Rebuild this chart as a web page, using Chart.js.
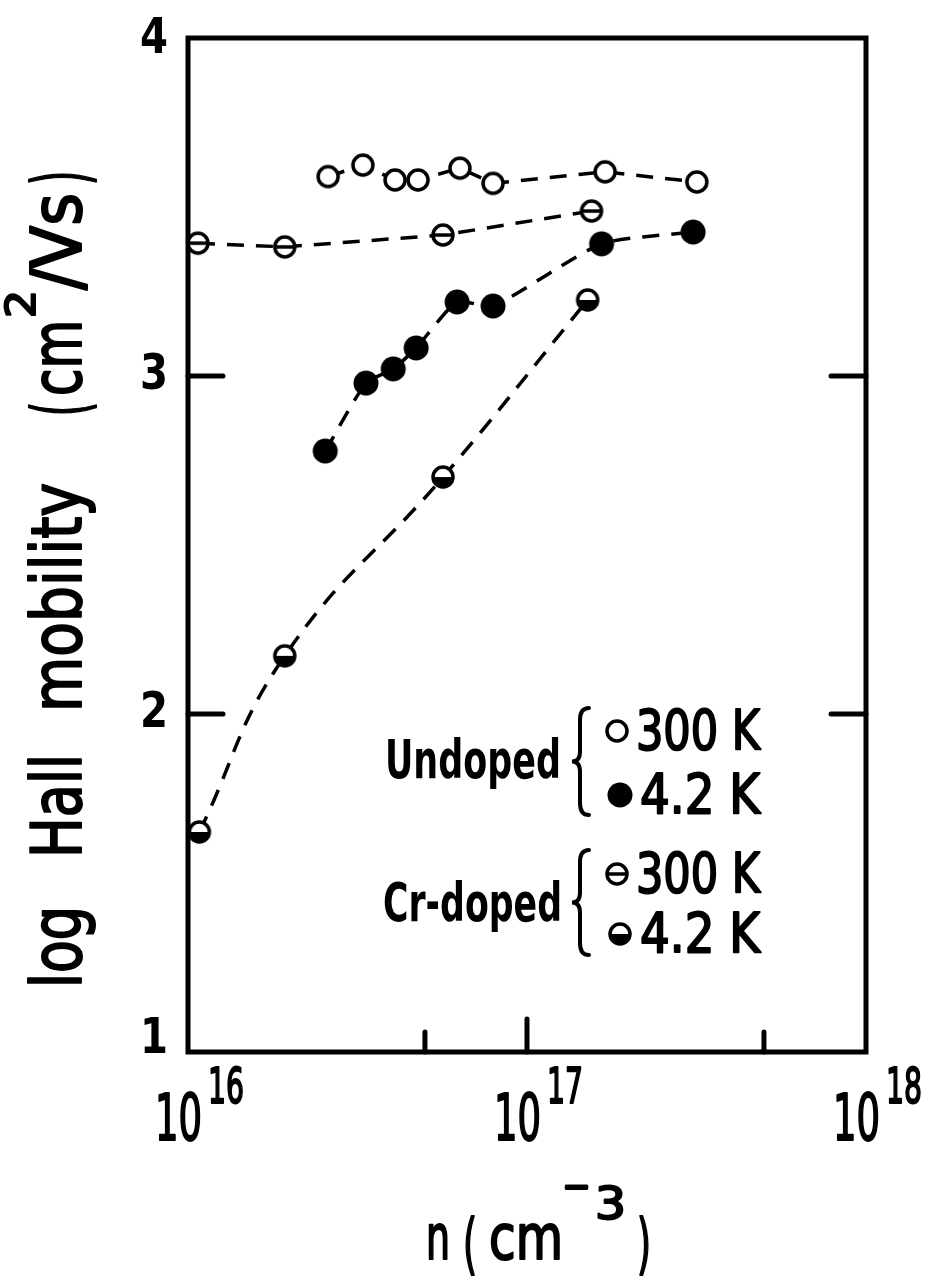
<!DOCTYPE html>
<html>
<head>
<meta charset="utf-8">
<script src="https://cdn.jsdelivr.net/npm/chart.js@4.4.1/dist/chart.umd.min.js"></script>
<style>
  html, body { margin: 0; padding: 0; background: #fff; }
</style>
</head>
<body>
<canvas id="hallChart" width="935" height="1276"></canvas>
<script>
// carrier concentration n (cm^-3) and log Hall mobility
const undoped300N  = [2.59e16, 3.28e16, 4.08e16, 4.77e16, 6.34e16, 7.94e16, 1.70e17, 3.17e17];
const undoped300Mu = [3.59, 3.624, 3.58, 3.58, 3.615, 3.57, 3.604, 3.574];

const undoped42N  = [2.54e16, 3.35e16, 4.03e16, 4.71e16, 6.22e16, 7.94e16, 1.66e17, 3.09e17];
const undoped42Mu = [2.778, 2.979, 3.021, 3.083, 3.219, 3.207, 3.391, 3.426];

const crDoped300N  = [1.07e16, 1.93e16, 5.65e16, 1.55e17];
const crDoped300Mu = [3.393, 3.382, 3.417, 3.488];

const crDoped42N  = [1.08e16, 1.93e16, 5.65e16, 1.51e17];
const crDoped42Mu = [1.651, 2.172, 2.701, 3.225];

const yTickValues = [1, 2, 3, 4];
const xDecades = [16, 17, 18];
const xMinorTicks = [5e16, 5e17];

const FONT = '"DejaVu Sans Condensed", "Liberation Sans Narrow", "DejaVu Sans", sans-serif';

// marker images
function makeMarker(kind, r) {
  const size = Math.ceil(r * 2 + 8);
  const c = document.createElement('canvas');
  c.width = size; c.height = size;
  const g = c.getContext('2d');
  const m = size / 2;
  g.lineWidth = 3.5;
  g.strokeStyle = '#000';
  g.fillStyle = '#fff';
  g.beginPath(); g.arc(m, m, r, 0, Math.PI * 2); g.fill();
  if (kind === 'filled') {
    g.fillStyle = '#000';
    g.beginPath(); g.arc(m, m, r + 1.5, 0, Math.PI * 2); g.fill();
    return c;
  }
  if (kind === 'half') {
    g.fillStyle = '#000';
    g.beginPath(); g.arc(m, m, r, 0, Math.PI); g.closePath(); g.fill();
  }
  if (kind === 'theta') {
    g.beginPath(); g.moveTo(m - r, m); g.lineTo(m + r, m); g.stroke();
  }
  g.beginPath(); g.arc(m, m, r, 0, Math.PI * 2); g.stroke();
  return c;
}

const mkOpen  = makeMarker('open', 10);
const mkFull  = makeMarker('filled', 11);
const mkTheta = makeMarker('theta', 10);
const mkHalf  = makeMarker('half', 10);

function pts(xs, ys) {
  return xs.map((x, i) => ({ x: x, y: ys[i] }));
}

// text stretched horizontally so it runs from x0 to x1; heavy adds an outline
function fitTxt(ctx, s, x0, x1, y, size, bold, base, heavy) {
  ctx.save();
  ctx.font = (bold ? 'bold ' : '') + size + 'px ' + FONT;
  ctx.textAlign = 'left';
  ctx.textBaseline = base || 'alphabetic';
  const w = ctx.measureText(s).width;
  ctx.translate(x0, y);
  ctx.scale((x1 - x0) / w, 1);
  ctx.fillText(s, 0, 0);
  if (heavy) {
    ctx.lineWidth = heavy;
    ctx.lineJoin = 'round';
    ctx.strokeText(s, 0, 0);
  }
  ctx.restore();
}

function brace(ctx, x, top, bottom) {
  const mid = (top + bottom) / 2;
  ctx.beginPath();
  ctx.moveTo(x + 9, top);
  ctx.quadraticCurveTo(x, top, x, top + 12);
  ctx.lineTo(x, mid - 10);
  ctx.quadraticCurveTo(x, mid, x - 8, mid);
  ctx.quadraticCurveTo(x, mid, x, mid + 10);
  ctx.lineTo(x, bottom - 12);
  ctx.quadraticCurveTo(x, bottom, x + 9, bottom);
  ctx.stroke();
}

const framePlugin = {
  id: 'frame',
  beforeDatasetsDraw(chart) {
    const { ctx, chartArea: a, scales } = chart;
    const xs = scales.x, ys = scales.y;
    ctx.save();
    ctx.strokeStyle = '#000';
    ctx.lineCap = 'round';
    ctx.lineWidth = 5;
    ctx.strokeRect(a.left, a.top, a.right - a.left, a.bottom - a.top);

    // inward ticks
    [2, 3].forEach(v => {
      const py = ys.getPixelForValue(v);
      ctx.beginPath(); ctx.moveTo(a.left, py); ctx.lineTo(a.left + 35, py); ctx.stroke();
      ctx.beginPath(); ctx.moveTo(a.right, py); ctx.lineTo(a.right - 35, py); ctx.stroke();
    });
    const p17 = xs.getPixelForValue(1e17);
    ctx.beginPath(); ctx.moveTo(p17, a.bottom); ctx.lineTo(p17, a.bottom - 33); ctx.stroke();
    xMinorTicks.forEach(v => {
      const px = xs.getPixelForValue(v);
      ctx.beginPath(); ctx.moveTo(px, a.bottom); ctx.lineTo(px, a.bottom - 20); ctx.stroke();
    });
    ctx.restore();
  },
  afterDraw(chart) {
    const { ctx, chartArea: a, scales } = chart;
    const xs = scales.x, ys = scales.y;
    ctx.save();
    ctx.fillStyle = '#000';
    ctx.strokeStyle = '#000';
    const H = 2; // outline for the regular-weight lettering

    // y tick labels
    yTickValues.forEach(v => {
      let py = ys.getPixelForValue(v);
      if (v === 1) py -= 12;
      if (v === 4) py += 2;
      fitTxt(ctx, String(v), a.left - 48, a.left - 20, py, 50, true, 'middle');
    });

    // x tick labels 10^k
    xDecades.forEach(k => {
      const px = xs.getPixelForValue(Math.pow(10, k));
      fitTxt(ctx, '10', px - 33, px + 14, 1140, 64, false, 'alphabetic', H);
      fitTxt(ctx, String(k), px + 20, px + 56, 1103, 50, false, 'alphabetic', H);
    });

    // x title  n (cm^-3)
    fitTxt(ctx, 'n', 426, 450, 1259, 62, false, 'alphabetic', H);
    fitTxt(ctx, '(', 463, 477, 1266, 66, false, 'alphabetic', H);
    fitTxt(ctx, 'cm', 489, 563, 1259, 62, false, 'alphabetic', H);
    fitTxt(ctx, '-', 563, 590, 1199, 44, false, 'alphabetic', H);
    fitTxt(ctx, '3', 595, 626, 1219, 44, false, 'alphabetic', H);
    fitTxt(ctx, ')', 637, 651, 1266, 66, false, 'alphabetic', H);

    // y title (rotated), words placed along the axis
    ctx.save();
    ctx.translate(81, 988);
    ctx.rotate(-Math.PI / 2);
    fitTxt(ctx, 'log', 0, 82, 0, 70, false, 'alphabetic', H);
    fitTxt(ctx, 'Hall', 130, 234, 0, 70, false, 'alphabetic', H);
    fitTxt(ctx, 'mobility', 276, 505, 0, 70, false, 'alphabetic', H);
    fitTxt(ctx, '(', 572, 586, 5, 74, false, 'alphabetic', H);
    fitTxt(ctx, 'cm', 592, 668, 0, 70, false, 'alphabetic', H);
    fitTxt(ctx, '2', 670, 698, -46, 40, false, 'alphabetic', H);
    fitTxt(ctx, '/Vs', 698, 795, 0, 70, false, 'alphabetic', H);
    fitTxt(ctx, ')', 803, 817, 5, 74, false, 'alphabetic', H);
    ctx.restore();

    // legend
    fitTxt(ctx, 'Undoped', 385, 561, 764, 54, true, 'middle');
    fitTxt(ctx, 'Cr-doped', 383, 562, 907, 54, true, 'middle');
    ctx.lineWidth = 4;
    ctx.lineCap = 'round';
    brace(ctx, 580, 708, 815);
    brace(ctx, 580, 850, 955);

    const legendRows = [
      [mkOpen, 617, 731, '300 K', 636],
      [mkFull, 620, 795, '4.2 K', 640],
      [mkTheta, 617, 874, '300 K', 636],
      [mkHalf, 620, 934, '4.2 K', 640]
    ];
    legendRows.forEach(r => {
      const img = r[0];
      ctx.drawImage(img, r[1] - img.width / 2, r[2] - img.height / 2);
      fitTxt(ctx, r[3], r[4], 760, r[2] + 3, 56, false, 'middle', H);
    });
    ctx.restore();
  }
};

const lineStyle = {
  showLine: true,
  borderColor: '#000',
  borderWidth: 3.5,
  borderDash: [17, 12],
  pointBorderColor: '#000',
  clip: false
};

new Chart(document.getElementById('hallChart').getContext('2d'), {
  type: 'scatter',
  data: {
    datasets: [
      Object.assign({}, lineStyle, {
        label: 'Undoped 300 K',
        data: pts(undoped300N, undoped300Mu),
        pointStyle: mkOpen,
        tension: 0
      }),
      Object.assign({}, lineStyle, {
        label: 'Undoped 4.2 K',
        data: pts(undoped42N, undoped42Mu),
        pointStyle: mkFull,
        tension: 0.2
      }),
      Object.assign({}, lineStyle, {
        label: 'Cr-doped 300 K',
        data: pts(crDoped300N, crDoped300Mu),
        pointStyle: mkTheta,
        tension: 0
      }),
      Object.assign({}, lineStyle, {
        label: 'Cr-doped 4.2 K',
        data: pts(crDoped42N, crDoped42Mu),
        pointStyle: mkHalf,
        tension: 0.45
      })
    ]
  },
  options: {
    responsive: false,
    animation: false,
    devicePixelRatio: 1,
    layout: { padding: { left: 188, right: 69, top: 38, bottom: 224 } },
    plugins: {
      legend: { display: false },
      tooltip: { enabled: false }
    },
    scales: {
      x: { type: 'logarithmic', min: 1e16, max: 1e18, display: false },
      y: { type: 'linear', min: 1, max: 4, display: false }
    }
  },
  plugins: [framePlugin]
});
</script>
</body>
</html>
